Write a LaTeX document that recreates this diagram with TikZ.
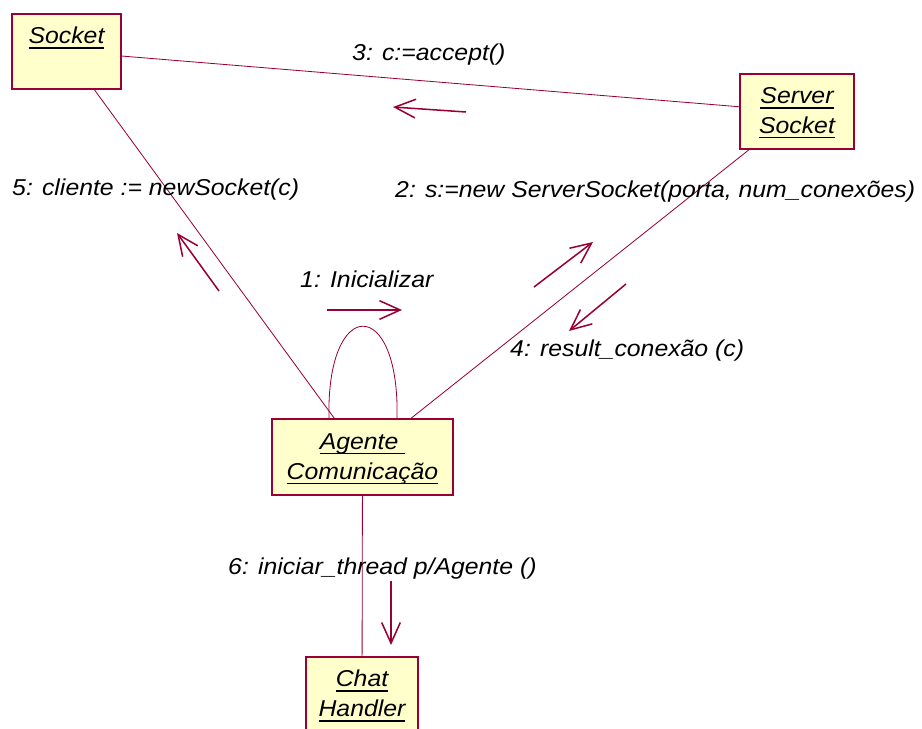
\documentclass[tikz,border=0pt]{standalone}
\usepackage{fontspec}
\setmainfont{Liberation Sans}
\newfontfamily\umlfont{Liberation Sans}[FakeStretch=1.08]
\usepackage{xcolor}
\usetikzlibrary{arrows.meta}

\definecolor{umlred}{RGB}{153,0,51}
\definecolor{umlyellow}{RGB}{255,255,204}
\newcommand{\objul}[1]{\setbox0=\hbox{#1}\rlap{\rule[-4.3pt]{\wd0}{1.5pt}}\box0}

\begin{document}
\begin{tikzpicture}[x=0.03cm, y=-0.03cm,
  objbox/.style={draw=umlred, fill=umlyellow, line width=0.9pt},
  objname/.style={anchor=base, align=center, inner sep=0pt, yshift=#1,
    font=\umlfont\fontsize{19.6}{25.6}\selectfont\itshape},
  objname/.default=-25.6pt,
  link/.style={draw=umlred, line width=0.7pt},
  msg/.style={draw=umlred, line width=1.3pt, -{Straight Barb[length=0.62cm, width=0.56cm]}},
  msglabel/.style={anchor=base west, inner sep=0pt, font=\umlfont\fontsize{19.6}{22}\selectfont\itshape}]
\useasboundingbox (0,0) rectangle (922,729);

\node[objbox, minimum width=3.27cm, minimum height=2.25cm] (socket) at (66.5,51.5) {};
\node[objbox, minimum width=3.42cm, minimum height=2.25cm] (server) at (797,111.5) {};
\node[objbox, minimum width=5.43cm, minimum height=2.28cm] (agente) at (362.5,457) {};
\node[objbox, minimum width=3.36cm, minimum height=2.25cm] (chat) at (362,694.5) {};

\node[objname] at (socket.north) {\objul{Socket}};
\node[objname=-51.2pt] at (server.north) {\objul{Server}\\\objul{Socket}};
\node[objname=-52pt] at (agente.north) {\objul{Agente\ }\\\objul{Comunicação}};
\node[objname=-51.2pt] at (chat.north) {\objul{Chat}\\\objul{Handler}};

\draw[link] (socket) -- (server);
\draw[link] (socket) -- (agente);
\draw[link] (agente) -- (server);
\draw[link] (agente) -- (chat);
\draw[link] (agente.north) ++(-33.5,0) .. controls +(-3,-123) and +(3,-123) .. +(68,0);

\draw[msg] (327,310) -- (402,310);
\draw[msg] (466,112) -- (393,107);
\draw[msg] (219,291) -- (177,233);
\draw[msg] (534,287) -- (593,242);
\draw[msg] (626,284) -- (569,331);
\draw[msg] (391,581) -- (391,645);

\node[msglabel] (l3) at (352,60) {3: c:=accept()};
\node[msglabel] (l5) at (12,195) {5: cliente := newSocket(c)};
\node[msglabel] (l2) at (395,197) {2: s:=new ServerSocket(porta, num\_conexões)};
\node[msglabel] (l1) at (300,287) {1: Inicializar};
\node[msglabel] (l4) at (510,356) {4: result\_conexão (c)};
\node[msglabel] (l6) at (228,574) {6: iniciar\_thread p/Agente ()};
\end{tikzpicture}
\end{document}
